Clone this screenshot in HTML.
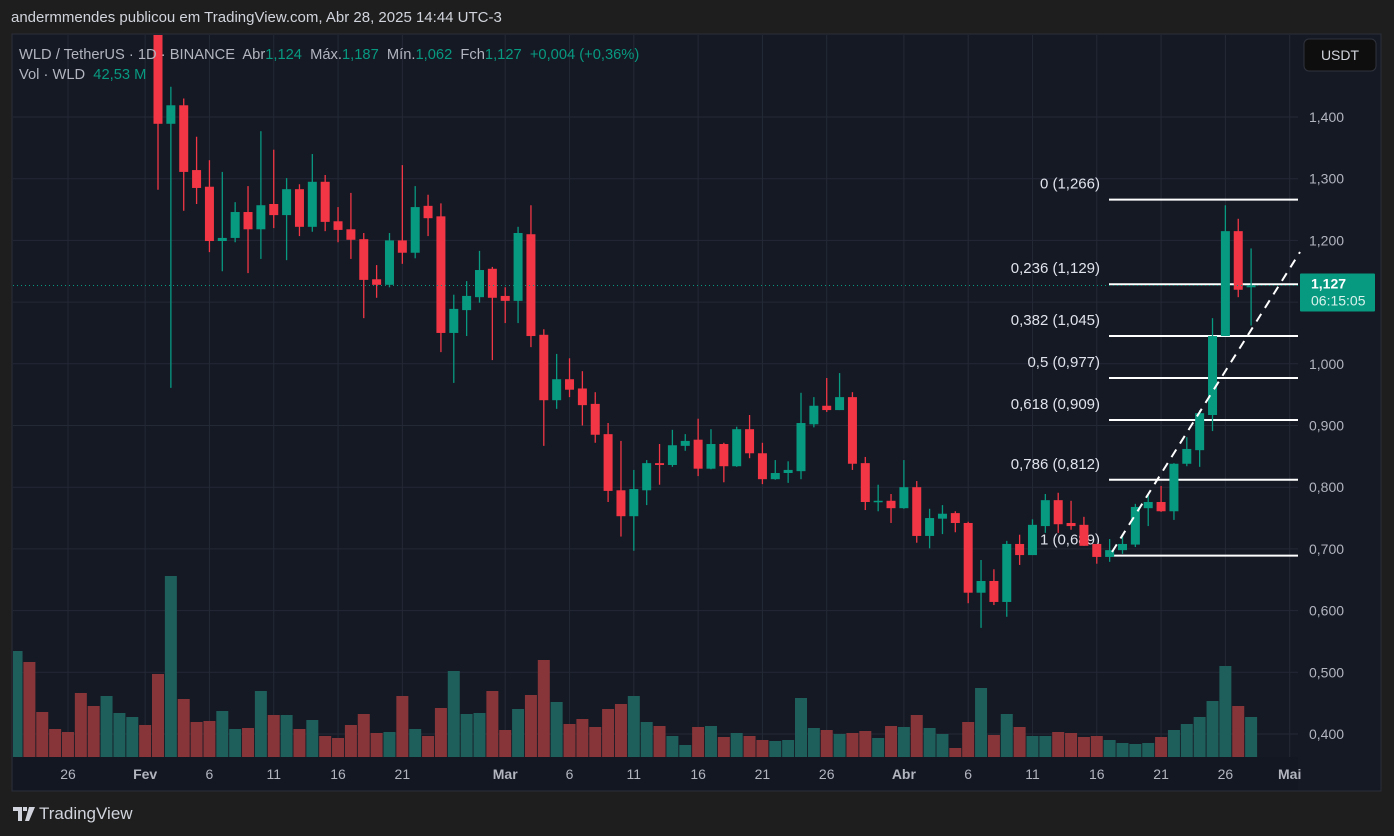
<!DOCTYPE html>
<html><head><meta charset="utf-8">
<style>
html,body{margin:0;padding:0;background:#1e1e1e;width:1394px;height:836px;overflow:hidden;font-family:"Liberation Sans",sans-serif;}
#hdr{position:absolute;left:11px;top:9px;color:#d1d4dc;font-size:15px;white-space:nowrap;}
#wrap{position:absolute;left:0;top:0;}
#logo{position:absolute;left:13px;top:804px;color:#d1d4dc;font-size:17px;display:flex;align-items:center;gap:4px;}
</style></head><body>
<div id="hdr">andermmendes publicou em TradingView.com, Abr 28, 2025 14:44 UTC-3</div>
<svg id="wrap" width="1394" height="836" xmlns="http://www.w3.org/2000/svg">
<defs><clipPath id="plotclip"><rect x="13" y="35" width="1285" height="722"/></clipPath></defs>
<rect x="12" y="34" width="1369" height="757" fill="#151924" stroke="#2a2e39"/>
<rect x="13" y="757" width="1285" height="33" fill="#131722"/>
<g id="grid"></g>
<g id="vols" clip-path="url(#plotclip)"></g>
<g id="fib"></g>
<g id="candles" clip-path="url(#plotclip)"></g>
<g id="overlay"></g>
<g id="axes"></g>
</svg>
<div id="logo"><svg width="22" height="14" viewBox="0 0 22 14"><path d="M0 0h9v14H5V4H0z M10 0h4v4h-4z M16 0h6l-6 14h-4z" fill="#d1d4dc"/></svg><span>TradingView</span></div>
<script>
const opens=[1.98,2.06,1.95,1.93,1.91,1.87,1.76,1.72,1.77,1.79,1.82,
1.68,1.389,1.419,1.314,1.287,1.199,1.204,1.246,1.218,1.259,1.241,1.283,1.222,1.295,1.231,1.218,1.202,1.137,1.128,1.2,1.18,1.256,1.239,1.05,1.087,1.108,1.154,
1.11,1.102,1.21,1.047,0.941,0.975,0.96,0.935,0.886,0.795,0.753,0.795,0.839,0.836,0.867,0.877,0.83,0.87,0.834,0.894,0.855,0.813,0.823,0.826,0.902,0.932,0.925,0.946,0.839,0.777,0.778,
0.766,0.8,0.721,0.749,0.758,0.742,0.629,0.648,0.614,0.708,0.69,0.737,0.779,0.742,0.739,0.708,0.687,0.698,0.707,0.766,0.776,0.761,0.838,0.86,0.917,1.045,1.215,1.124];
const highs=[2.10,2.08,1.99,1.96,1.94,1.88,1.82,1.80,1.83,1.86,1.84,
1.70,1.449,1.43,1.368,1.33,1.311,1.262,1.288,1.377,1.347,1.301,1.291,1.34,1.306,1.254,1.277,1.212,1.16,1.212,1.322,1.288,1.274,1.26,1.112,1.134,1.183,1.157,
1.124,1.222,1.257,1.056,1.016,1.009,0.988,0.954,0.904,0.875,0.828,0.844,0.87,0.893,0.886,0.911,0.894,0.872,0.898,0.917,0.872,0.844,0.842,0.953,0.946,0.977,0.985,0.954,0.849,0.804,0.789,
0.844,0.81,0.765,0.771,0.761,0.744,0.682,0.667,0.713,0.723,0.748,0.789,0.791,0.778,0.752,0.708,0.716,0.723,0.773,0.789,0.802,0.839,0.881,0.925,1.074,1.257,1.235,1.187];
const lows=[1.95,1.92,1.90,1.90,1.85,1.70,1.68,1.70,1.74,1.76,1.66,
1.282,0.961,1.248,1.259,1.181,1.15,1.197,1.147,1.17,1.22,1.168,1.207,1.214,1.215,1.197,1.17,1.074,1.107,1.124,1.162,1.171,1.207,1.019,0.969,1.045,1.099,1.006,
1.066,1.066,1.027,0.867,0.927,0.946,0.9,0.872,0.776,0.72,0.697,0.771,0.804,0.833,0.859,0.818,0.829,0.808,0.833,0.847,0.805,0.812,0.807,0.813,0.897,0.922,0.925,0.828,0.763,0.761,0.742,
0.765,0.71,0.701,0.724,0.727,0.612,0.572,0.609,0.59,0.674,0.69,0.726,0.726,0.731,0.705,0.676,0.679,0.692,0.703,0.737,0.76,0.747,0.834,0.833,0.891,1.045,1.108,1.062];
const closes=[2.06,1.95,1.93,1.91,1.87,1.76,1.72,1.77,1.80,1.82,1.68,
1.389,1.419,1.311,1.285,1.199,1.204,1.246,1.218,1.257,1.241,1.283,1.222,1.295,1.23,1.217,1.201,1.136,1.128,1.2,1.18,1.254,1.236,1.05,1.089,1.11,1.152,1.107,
1.102,1.212,1.045,0.941,0.975,0.958,0.933,0.885,0.794,0.753,0.797,0.839,0.836,0.868,0.875,0.83,0.87,0.834,0.894,0.855,0.813,0.823,0.828,0.904,0.932,0.925,0.946,0.838,0.776,0.778,0.766,
0.8,0.721,0.75,0.757,0.742,0.629,0.648,0.614,0.708,0.69,0.739,0.779,0.74,0.737,0.705,0.687,0.698,0.708,0.768,0.776,0.761,0.838,0.862,0.92,1.045,1.215,1.12,1.127];
const volumes=[106,95,45,28,25,64,51,61,44,40,32,
83,181,58,35,36,46,28,29,66,42,42,28,37,21,19,32,43,24,25,61,28,21,49,
86,43,44,66,27,48,62,97,55,33,38,30,48,53,61,35,31,21,12,30,31,20,24,21,17,16,17,59,29,27,23,24,26,
19,31,30,42,29,23,9,35,69,22,43,30,21,21,25,24,20,21,17,14,13,14,20,27,33,40,56,91,51,40];
const firstDayOffset=-11; // Jan 22 relative to Feb 2
const priceTicks=[0.4,0.5,0.6,0.7,0.8,0.9,1.0,1.1,1.2,1.3,1.4];
const timeLabels=["26","Fev","6","11","16","21","Mar","6","11","16","21","26","Abr","6","11","16","21","26","Mai"];
const timeLabelDays=[-7,-1,4,9,14,19,27,32,37,42,47,52,58,63,68,73,78,83,88];
const fibRatios=["0","0,236","0,382","0,5","0,618","0,786","1"];
const fibPrices=[1.266,1.129,1.045,0.977,0.909,0.812,0.689];
const lastPrice=1.127;

const NS="http://www.w3.org/2000/svg";
const X0=158, DX=12.86, PLOT_R=1298;
function xDay(d){return X0+d*DX;}
function yPrice(p){return 117+(1.4-p)*617;}
function yVol(v){return 757-v;}
function mk(tag,attrs,parent){const e=document.createElementNS(NS,tag);for(const k in attrs)e.setAttribute(k,attrs[k]);parent.appendChild(e);return e;}
const G=document.getElementById('grid'),V=document.getElementById('vols'),C=document.getElementById('candles'),A=document.getElementById('axes'),F=document.getElementById('fib'),O=document.getElementById('overlay');
const fmt=p=>p.toFixed(3).replace('.',',');

priceTicks.forEach(p=>{
  const y=yPrice(p);
  const l=mk('line',{x1:13,x2:PLOT_R,y1:y,y2:y,stroke:'#242936','stroke-width':1},G);
  
  
  const t=mk('text',{x:1309,y:y+5,fill:'#b2b5be','font-size':14},A);
  t.textContent=fmt(p);
  
  
});
timeLabels.forEach((s,i)=>{
  const x=xDay(timeLabelDays[i]);
  const l=mk('line',{x1:x,x2:x,y1:35,y2:757,stroke:'#242936','stroke-width':1},G);
  
  
  const bold=isNaN(+s);
  const t=mk('text',{x:x,y:779,fill:'#b2b5be','font-size':14,'text-anchor':'middle','font-weight':bold?'bold':'normal'},A);
  t.textContent=s;
  
  
});

closes.forEach((c,i)=>{
  const d=i+firstDayOffset, x=xDay(d), o=opens[i], up=c>=o;
  const vr=mk('rect',{x:x-6,y:yVol(volumes[i]),width:12,height:volumes[i],fill:up?'#1e5e5b':'#873538'},V);
  
  
  const col=up?'#089981':'#f23645';
  const g=mk('g',{},C);
  
  
  mk('line',{x1:x,x2:x,y1:yPrice(highs[i]),y2:yPrice(lows[i]),stroke:col,'stroke-width':1.3},g);
  const top=yPrice(Math.max(o,c)),bot=yPrice(Math.min(o,c));
  mk('rect',{x:x-4.5,y:top,width:9,height:Math.max(1.5,bot-top),fill:col},g);
});

fibPrices.forEach((p,i)=>{
  const y=yPrice(p);
  const l=mk('line',{x1:1109,x2:PLOT_R,y1:y,y2:y,stroke:'#ffffff','stroke-width':2},F);
  
  
  const t=mk('text',{x:1100,y:y-11,fill:'#e0e3eb','font-size':15,'text-anchor':'end'},F);
  t.textContent=fibRatios[i]+' ('+fmt(p)+')';
  
  
});

const yl=yPrice(lastPrice);
const pl=mk('line',{x1:13,x2:PLOT_R,y1:yl,y2:yl,stroke:'#089981','stroke-width':1,'stroke-dasharray':'1 3'},O);


const tl=mk('line',{x1:1112,y1:552,x2:1300,y2:252,stroke:'#ffffff','stroke-width':2,'stroke-dasharray':'9 7'},O);



const box=mk('rect',{x:1300,y:yl-12,width:75,height:38,fill:'#089981',rx:1},A);


const bt=mk('text',{x:1311,y:yl+3,fill:'#ffffff','font-size':14,'font-weight':'bold'},A);
bt.textContent=fmt(lastPrice);


const bc=mk('text',{x:1311,y:yl+20,fill:'#d9f2ec','font-size':14},A);
bc.textContent='06:15:05';



const ub=mk('rect',{x:1304,y:39,width:72,height:32,rx:5,fill:'#0e0e0e',stroke:'#2f323c'},A);


const ut=mk('text',{x:1340,y:60,fill:'#d1d4dc','font-size':14,'text-anchor':'middle'},A);
ut.textContent='USDT';



const lg=mk('text',{x:19,y:59,'font-size':14.7,fill:'#b2b5be'},A);


lg.innerHTML='WLD / TetherUS · 1D · BINANCE  Abr<tspan fill="#089981">1,124</tspan>  Máx.<tspan fill="#089981">1,187</tspan>  Mín.<tspan fill="#089981">1,062</tspan>  Fch<tspan fill="#089981">1,127</tspan>  <tspan fill="#089981">+0,004 (+0,36%)</tspan>';
lg.style.whiteSpace='pre';
const vl=mk('text',{x:19,y:79,'font-size':14.7,fill:'#b2b5be'},A);


vl.innerHTML='Vol · WLD  <tspan fill="#089981">42,53 M</tspan>';
vl.style.whiteSpace='pre';
</script>
</body></html>
